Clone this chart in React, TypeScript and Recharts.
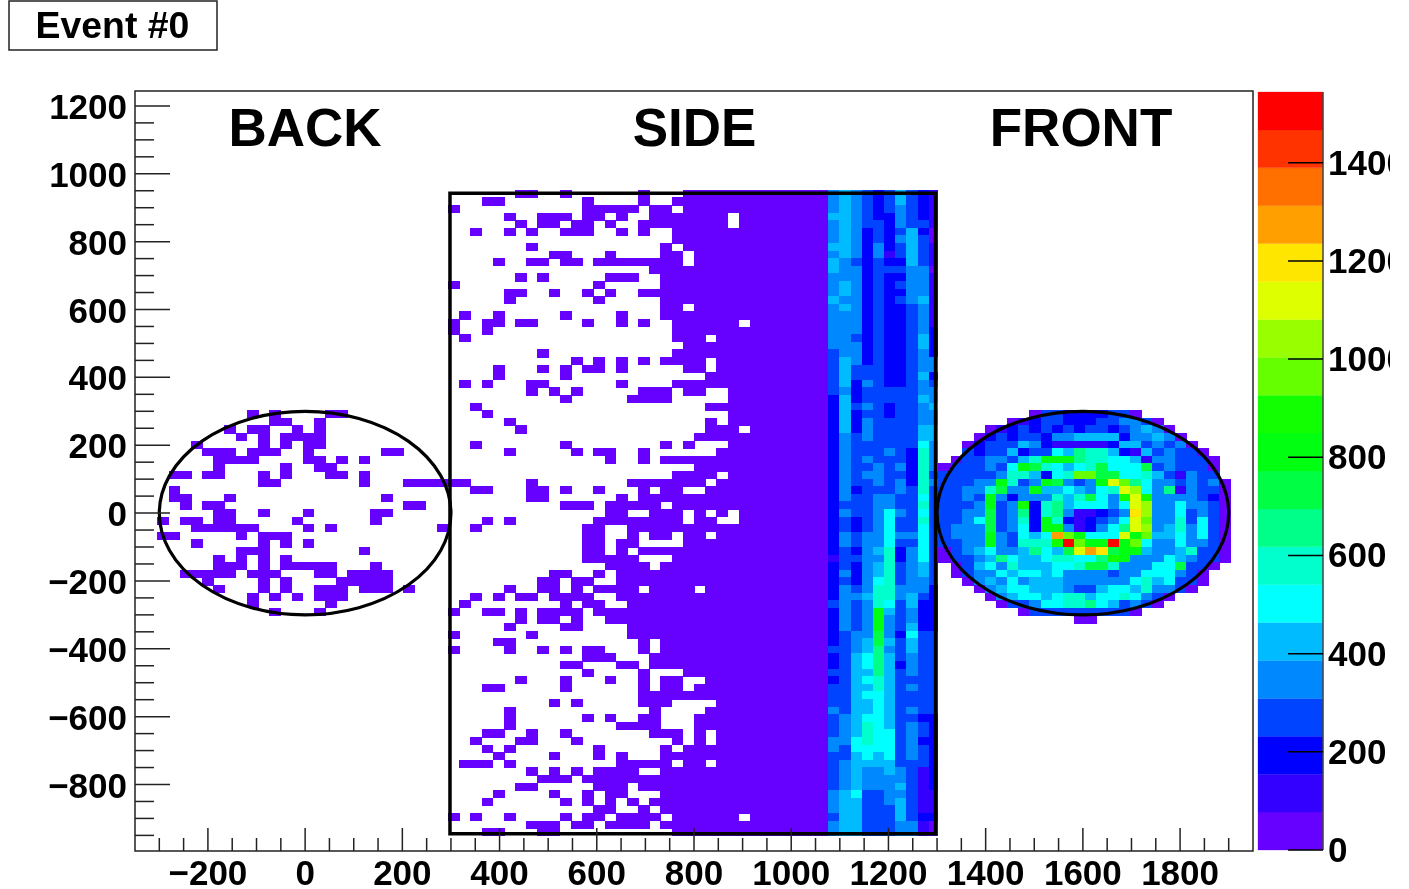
import {
  Bar,
  BarChart,
  ReferenceArea,
  Scatter,
  ScatterChart,
  XAxis,
  YAxis,
} from "recharts";

const FONT = '"Liberation Sans", Arial, sans-serif';
const INK = "#222";

// axis ranges, 100 x 100 bins
const X_MIN = -350;
const X_MAX = 1950;
const Y_MIN = -996;
const Y_MAX = 1244;
const BINS = 100;
const PLOT_W = 1118;
const PLOT_H = 760;
const CELL_W = PLOT_W / BINS;
const CELL_H = PLOT_H / BINS;

// colour bar, bottom band first
const palette = [
  "#6600ff", "#3300ff", "#0000ff", "#0044ff", "#0088ff",
  "#00bbff", "#00ffff", "#00ffcc", "#00ff88", "#00ff44",
  "#00ff11", "#11ff00", "#66ff00", "#99ff00", "#ddff00",
  "#ffe600", "#ffa000", "#ff7000", "#ff3300", "#ff0000",
];
const Z_BAND = 77.2;
const zTicks = [0, 200, 400, 600, 800, 1000, 1200, 1400];

// tick values
const xTicks = Array.from({ length: 45 }, (_, i) => -300 + i * 50);
const yTicks = Array.from({ length: 44 }, (_, i) => -950 + i * 50);

// BACK: occupied bins per row from row 42, column numbers (level 1)
const backSpans = [
  "10 12 17-18",
  "12-13 16",
  "8 10-11 14 16",
  "9 11 13-16",
  "5 11 13 15-16",
  "6-8 10-12 15 22-23",
  "7-10 15-16 18 20",
  "7 13 16-17",
  "3-4 6-7 11 13 17-18 20",
  "11-12 20 24-28",
  "3",
  "3-4 8 22",
  "4 6-7 24-25",
  "7-8 11 15 21-22",
  "2 4-5 7-8 14 21",
  "5-10 15 17 27",
  "2-3 9 11-13",
  "5 11 13 15",
  "9-11 20",
  "7 9 11 13",
  "7-9 11 13-17 21",
  "4-8 10-12 16-17 19-22",
  "6 11 13 18-22",
  "7 11 13 16-18 20-22 24",
  "10 12 14 16-18",
  "10 17",
  "12 16",
];

// SIDE, left part: occupied bins per row from row 13, "49-" runs up to column 61
const sideSpans = [
  "34-35 38 45 49-",
  "31-32 40 45 48-",
  "28 40-44 46-47 49-",
  "33 36-38 40-41 43 46-52 54-",
  "34 36-37 39-40 42 45-52 54-",
  "30 33 35 38-40 43 45 48-",
  "48-",
  "35 47 49-",
  "37-38 42 47-48 50-",
  "32 35-36 38-39 41-48 50-",
  "46-",
  "34 36 42-44 47-",
  "28 41 47-",
  "33-34 37 40 42 45-",
  "33 41 47-",
  "47-48 50-",
  "29 32 38 43 47-",
  "28 31-32 34-35 40 43 45 48-53 55-",
  "28 31 48-",
  "29 48-50 52-",
  "49-",
  "36 48-",
  "39 41 43 45 47-50 52-",
  "32 36 38 40-41 43 49-50 52-",
  "32 38 51-",
  "29 31 35-36 43 48-",
  "35 37 39 45-47 49-50 53-",
  "38 44-47 53-",
  "30 51-",
  "31 53-",
  "33 51 53-",
  "34 51-53 55-",
  "50-",
  "30 38 47 49 53-",
  "33 39 41-42 45 52-",
  "42 45 47-",
  "50-",
  "48-51 53-",
  "28-29 35 44-50 52-",
  "30-31 35-36 38 41 45 47-48 51-",
  "35-36 43 45-",
  "38-40 42-46 48-",
  "42-43 46-48 50 52 54-",
  "31 33 41-48 50-51 54-",
  "30 40-41 44-",
  "40-41 44 46-47 49-50 52-",
  "40-41 43-44 49-",
  "40-41 43 45-",
  "40-44 48-",
  "42-45 47-",
  "37-38 41 43-",
  "36-37 39-40 43-",
  "33 36-37 39 41-44 46-49 51-",
  "30 32 34-35 37-40 43-",
  "29 38 40-41 44-",
  "28 31-32 34 36-39 41-",
  "34 36-37 39 42-",
  "33 38-39 44-",
  "28 35 44-",
  "32-33 45 47-",
  "28 33 36 38 40-41 45 47-",
  "40-42 46-",
  "38-39 43-44 46-",
  "40 45 49-",
  "34 38 42 45 47-48 51-",
  "31-32 38 45 47-48 50-",
  "45-",
  "37 39 45-47 52-",
  "33 46 51-",
  "33 40 42 45-46 50-",
  "33 43-46 50-",
  "31-32 35 38 46-48 50 52-",
  "30 34-35 39 48 50 52-",
  "31 33 41 47 49-",
  "32 37 41 43 47-",
  "29-31 33 43-47 49-50 52-",
  "35 37 39 41-44 47-",
  "36-38 40-",
  "34-35 41-43 45-",
  "32 37 40 42-43 47-",
  "31 38 40 42 44 46-",
  "41-42 45 47-",
  "28 30 33 38 40-41 43-46 48-53 55-",
  "35-37 39-40 42-45 47-",
  "31-32 36-37 48-",
];

// SIDE, hot end: colour band per bin, columns 62-71, rows from 13
const sideHot = [
  "5654346432", "5654346432", "5654345432", "6654335432", "5654435442",
  "5653434631", "5653435641", "6653534642", "5653524642", "6543433642",
  "6553444551", "5553433552", "5653434552", "5653433552", "6553434562",
  "5653433452", "5553433452", "5553433452", "5553433453", "5543433463",
  "5553433463", "4553433453", "4653433455", "4644433455", "4644433463",
  "4635433454", "4534444455", "3634444465", "3645434456", "3634434455",
  "3635444455", "3635444466", "3545444466", "3544444475", "3544454385",
  "3545444385", "3544545385", "3545544384", "3544545385", "3534445484",
  "3544554474", "3444554484", "3544575474", "3434574484", "3434574474",
  "3545575574", "3545574474", "3435683574", "2445583574", "3435684564",
  "3535684564", "3435784554", "3545885553", "3556885643", "4545874633",
  "3545b64533", "3545b54533", "3545b54633", "3455a53744", "3456a64644",
  "4456954644", "3467964544", "3467963544", "4466964544", "3467864444",
  "4466864544", "4467764444", "4466764444", "5466764544", "4567764433",
  "4568764543", "4568774543", "5578774533", "5477774543", "4467674543",
  "4566664443", "4565565423", "4565555423", "4565556423", "5674455422",
  "5664456422", "5664446422", "4664446433", "5664445521", "5664445521",
];

// FRONT: colour band per bin, columns from 72, rows from 42 ("." is empty)
const frontRows = [
  "........1443333441",
  "......12344333445541",
  "....12343434344345651",
  "...1343443556666355651",
  "..134446532222236645451",
  "..4344634476988632645441",
  ".14455468bbb9887762554441",
  "1444547ba87678a777a454441",
  "444445886378ddaa778642544",
  "44455b845ba545bfd975545451",
  "44558a55b6676578fe75925441",
  "4454b53555868a75cfc5555431",
  "4445b45c389677757fe5575541",
  "4455a459389522345ge5574541",
  "4457a4583b8323457fd5584741",
  "4555a4573bb523579fe5685741",
  "4555b54767hdb777fbd6675741",
  "4455b54888ckdbbkbd75575541",
  "14567556976afhgabb65568441",
  "144569766788779cb555765441",
  ".146758666778aa855577a441",
  ".14557677675555455777541",
  "..1565756665555557867441",
  "...15677666544677685541",
  "....15677678867787541",
  ".....144577889764541",
  ".......14444444441",
  "............11",
];

type Cell = { x: number; y: number; z: number };

const binX = (col: number) => X_MIN + ((col + 0.5) * (X_MAX - X_MIN)) / BINS;
const binY = (row: number) => Y_MAX - ((row + 0.5) * (Y_MAX - Y_MIN)) / BINS;
const bandValue = (band: number) => (band - 0.5) * Z_BAND;

const cells: Cell[] = [];

function addSpans(spans: string[], firstRow: number, lastCol: number) {
  spans.forEach((line, r) => {
    for (const run of line.split(" ")) {
      const [a, b] = run.split("-");
      const from = Number(a);
      const to = b === undefined ? from : b === "" ? lastCol : Number(b);
      for (let c = from; c <= to; c++) {
        cells.push({ x: binX(c), y: binY(firstRow + r), z: bandValue(1) });
      }
    }
  });
}

function addBands(rows: string[], firstRow: number, firstCol: number) {
  rows.forEach((line, r) => {
    [...line].forEach((ch, c) => {
      if (ch === ".") return;
      cells.push({
        x: binX(firstCol + c),
        y: binY(firstRow + r),
        z: bandValue(parseInt(ch, 36)),
      });
    });
  });
}

addSpans(backSpans, 42, 28);
addSpans(sideSpans, 13, 61);
addBands(sideHot, 13, 62);
addBands(frontRows, 42, 72);

// the two detector halves meet at the side frame: last side column is cut short
const LAST_SIDE_X = binX(71);
const FIRST_FRONT_X = binX(72);

const HeatCell = (props: any) => {
  const { cx, cy, payload } = props;
  const band = Math.min(palette.length - 1, Math.floor(payload.z / Z_BAND));
  const trim = payload.x === LAST_SIDE_X ? 2.4 : 0;
  const grow = payload.x === FIRST_FRONT_X ? 2 : 0;
  return (
    <rect
      x={cx - CELL_W / 2 - grow}
      y={cy - CELL_H / 2}
      width={CELL_W + 0.6 + grow - trim}
      height={CELL_H + 0.6}
      fill={palette[band]}
      shapeRendering="crispEdges"
    />
  );
};

const label = (v: number) => (v < 0 ? `\u2212${-v}` : `${v}`);

const XTick = ({ x, y, payload }: any) => {
  const major = payload.value % 200 === 0;
  return (
    <g>
      <line x1={x} x2={x} y1={y} y2={y - (major ? 23 : 13)} stroke={INK} strokeWidth={1.5} />
      {major && (
        <text x={x} y={y + 34} textAnchor="middle" fontFamily={FONT} fontWeight="bold" fontSize={35} fill="#000">
          {label(payload.value)}
        </text>
      )}
    </g>
  );
};

const YTick = ({ x, y, payload }: any) => {
  const major = payload.value % 200 === 0;
  return (
    <g>
      <line x1={x} x2={x + (major ? 35 : 19)} y1={y} y2={y} stroke={INK} strokeWidth={1.5} />
      {major && (
        <text x={x - 8} y={y + 13} textAnchor="end" fontFamily={FONT} fontWeight="bold" fontSize={35} fill="#000">
          {label(payload.value)}
        </text>
      )}
    </g>
  );
};

const ZTick = ({ x, y, payload }: any) => (
  <g>
    <line x1={x - 35} x2={x} y1={y} y2={y} stroke="#000" strokeWidth={1.5} />
    <text x={x + 5} y={y + 12} fontFamily={FONT} fontWeight="bold" fontSize={35} fill="#000">
      {payload.value}
    </text>
  </g>
);

const Ring = ({ x, y, width, height }: any) => (
  <ellipse
    cx={x + width / 2}
    cy={y + height / 2}
    rx={width / 2}
    ry={height / 2}
    fill="none"
    stroke="#000"
    strokeWidth={3.2}
  />
);

const titleStyle = {
  fontFamily: FONT,
  fontWeight: "bold" as const,
  fontSize: 53,
  fill: "#000",
};

const zRow = [Object.fromEntries(palette.map((_, i) => [`band${i}`, Z_BAND]))];

export default function App() {
  return (
    <div
      style={{
        position: "absolute",
        left: 0,
        top: 0,
        width: 1409,
        height: 889,
        overflow: "hidden",
        background: "#fff",
        filter: "blur(0.5px)",
      }}
    >
      <div style={{ position: "absolute", left: 0, top: 0 }}>
        <ScatterChart
          width={1256}
          height={889}
          margin={{ top: 91, right: 3, bottom: 0, left: 0 }}
        >
          <XAxis
            type="number"
            dataKey="x"
            domain={[X_MIN, X_MAX]}
            ticks={xTicks}
            interval={0}
            height={38}
            tickSize={0}
            tickMargin={0}
            tickLine={false}
            axisLine={false}
            tick={XTick}
            allowDataOverflow
          />
          <YAxis
            type="number"
            dataKey="y"
            domain={[Y_MIN, Y_MAX]}
            ticks={yTicks}
            interval={0}
            width={135}
            tickSize={0}
            tickMargin={0}
            tickLine={false}
            axisLine={false}
            tick={YTick}
            allowDataOverflow
          />
          <Scatter data={cells} shape={HeatCell} isAnimationActive={false} />
          <ReferenceArea
            x1={X_MIN}
            x2={X_MAX}
            y1={Y_MIN}
            y2={Y_MAX}
            fill="none"
            stroke={INK}
            strokeWidth={1.5}
            ifOverflow="visible"
            zIndex={700}
          />
          <ReferenceArea
            x1={298}
            x2={1297}
            y1={-945}
            y2={943}
            fill="none"
            stroke="#000"
            strokeWidth={3.5}
            ifOverflow="visible"
            zIndex={700}
          />
          <ReferenceArea x1={-300} x2={300} y1={-300} y2={300} shape={Ring} ifOverflow="visible" zIndex={700} />
          <ReferenceArea x1={1300} x2={1900} y1={-300} y2={300} shape={Ring} ifOverflow="visible" zIndex={700} />
          <text x={305} y={146} textAnchor="middle" style={titleStyle}>BACK</text>
          <text x={694.5} y={146} textAnchor="middle" style={titleStyle}>SIDE</text>
          <text x={1081} y={146} textAnchor="middle" style={titleStyle}>FRONT</text>
          <rect x={9} y={1} width={208} height={49} fill="none" stroke={INK} strokeWidth={1.5} />
          <text
            x={112.5}
            y={38}
            textAnchor="middle"
            fontFamily={FONT}
            fontWeight="bold"
            fontSize={37.4}
            fill="#000"
          >
            Event #0
          </text>
        </ScatterChart>
      </div>
      <div style={{ position: "absolute", left: 1240, top: 0 }}>
        <BarChart
          width={150}
          height={889}
          data={zRow}
          barCategoryGap={0}
          margin={{ top: 92, right: 0, bottom: 39, left: 18 }}
        >
          <XAxis hide />
          <YAxis
            orientation="right"
            type="number"
            domain={[0, Z_BAND * palette.length]}
            ticks={zTicks}
            interval={0}
            width={67}
            tickSize={0}
            tickMargin={0}
            tickLine={false}
            axisLine={{ stroke: "#444", strokeWidth: 1.5 }}
            tick={ZTick}
          />
          {palette.map((color, i) => (
            <Bar
              key={color}
              dataKey={`band${i}`}
              stackId="z"
              fill={color}
              stroke={color}
              strokeWidth={0.3}
              isAnimationActive={false}
            />
          ))}
        </BarChart>
      </div>
    </div>
  );
}
